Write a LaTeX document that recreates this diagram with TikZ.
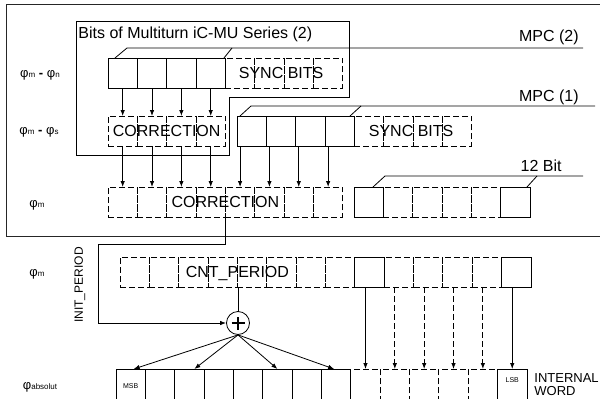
\documentclass[tikz,border=0pt]{standalone}
\usepackage{fontspec}
\setmainfont{Liberation Sans}
\usetikzlibrary{arrows.meta, positioning}
\newcommand\phisub[1]{φ{\fontsize{8}{8}\selectfont #1}}

\begin{document}
\begin{tikzpicture}[
            x=1pt, y=-1pt,
            line width=0.8pt,
            cell/.style={draw, minimum width=29.35pt, minimum height=30pt, inner sep=0pt, outer sep=0pt, anchor=north west},
            dcell/.style={cell, dash pattern=on 6pt off 3pt},
            arr/.style={-{Latex[length=6pt,width=4.5pt]}},
            darr/.style={arr, dash pattern=on 6pt off 3pt},
            big/.style={font=\fontsize{16}{16}\selectfont, inner sep=0pt, text height=11.5pt, text depth=0pt},
            lbl/.style={font=\fontsize{13}{13}\selectfont, inner sep=0pt},
            tiny/.style={font=\fontsize{7}{7}\selectfont, inner sep=0pt},
            adder/.style={draw, circle, minimum size=23pt, inner sep=0pt,
              path picture={\draw[line width=2.4pt]
                ([xshift=-6.5pt]path picture bounding box.center) -- ([xshift=6.5pt]path picture bounding box.center)
                ([yshift=-6.5pt]path picture bounding box.center) -- ([yshift=6.5pt]path picture bounding box.center);}}
          ]
            \useasboundingbox (0,0) rectangle (600,399);
            \clip (0,0) rectangle (600,399);
            \draw[black!85] (6,4) rectangle (610,236);
            \draw (76,21) -- (349,21) -- (349,97) -- (229,97) -- (229,155) -- (76,155) -- cycle;
            \node[big, anchor=south west] (title) at (78,39) {Bits of Multiturn iC-MU Series (2)};

            \foreach \i in {4,...,7} \node[dcell] (a\i) at (108+\i*29.35,58) {};
            \foreach \i in {0,...,3} \node[cell] (a\i) at (108+\i*29.35,58) {};
            \node[big] (sync2) at ([xshift=-3pt]a5.east) {SYNC BITS};

            \foreach \i in {0,...,3} \node[dcell] (b\i) at (108+\i*29.35,116) {};
            \node[big] (corr1) at (b1.east) {CORRECTION};
            \foreach \i in {4,...,7} \node[dcell] (m\i) at (237+\i*29.35,116) {};
            \foreach \i in {0,...,3} \node[cell] (m\i) at (237+\i*29.35,116) {};
            \node[big] (sync1) at ([xshift=-2pt]m5.east) {SYNC BITS};

            \foreach \i in {0,...,7} \node[dcell] (c\i) at (108+\i*29.35,187) {};
            \node[big] (corr2) at (c4.west) {CORRECTION};
            \foreach \i in {1,...,4} \node[dcell] (t\i) at (354+\i*29.35,187) {};
            \foreach \i in {0,5} \node[cell] (t\i) at (354+\i*29.35,187) {};

            \foreach \i in {0,...,7,9,10,11,12} \node[dcell] (d\i) at (120+\i*29.35,257) {};
            \foreach \i in {8,13} \node[cell] (d\i) at (120+\i*29.35,257) {};
            \node[big] (cnt) at (d4.west) {CNT\_PERIOD};

            \foreach \i in {8,...,12} \node[dcell, minimum height=40pt] (e\i) at (116+\i*29.35,369) {};
            \foreach \i in {0,...,7,13} \node[cell, minimum height=40pt] (e\i) at (116+\i*29.35,369) {};
            \node[tiny] (msb) at ([yshift=-17pt]e0.north) {MSB};
            \node[tiny] (lsb) at ([yshift=-11pt]e13.north) {LSB};

            \draw (115,58) -- ++(12,-10) -- (583,48);
            \draw (232,48) -- ++(-8,10);
            \node[big, anchor=south east] (mpc2) at (579,42) {MPC (2)};
            \draw (240,116) -- ++(11,-10) -- (595,106);
            \draw (361,106) -- ++(-11,10);
            \node[big, anchor=south east] (mpc1) at (579,102) {MPC (1)};
            \draw (373,187) -- ++(12,-11) -- (583,176);
            \draw (537,176) -- ++(-10,11);
            \node[big, anchor=south east] (bits) at (562,172) {12 Bit};

            \foreach \i in {0,...,3} \draw[arr] (a\i) -- (b\i);
            \foreach \i in {0,...,3} \draw[arr] (b\i) -- (c\i);
            \foreach \i in {4,...,7} \draw[arr] (c\i.north |- m0.south) -- (c\i.north);

            \node[adder] (sum) at (238,323) {};
            \coordinate (bend) at (98,244);
            \draw[arr] (c4.south west) |- (bend) |- (sum);
            \node[lbl, font=\fontsize{12}{12}\selectfont, rotate=90] (init) at (80,285) {INIT\_PERIOD};
            \draw (sum.north |- d4.south) -- (sum);
            \draw[arr] (sum.south) -- ([xshift=3pt]e0.north);
            \draw[arr] (sum.south) -- ([xshift=5pt]e2.north);
            \draw[arr] (sum.south) -- (e5.north);
            \draw[arr] (sum.south) -- ([xshift=-2pt]e7.north);
            \foreach \i in {8,13} \draw[arr] (e\i.north |- d8.south) -- (e\i.north);
            \foreach \i in {9,...,12} \draw[darr] (e\i.north |- d8.south) -- (e\i.north);

            \node[lbl] (ln) at (40,75) {\phisub{m} \textbf{-} \phisub{n}};
            \node[lbl] (ls) at (39,132) {\phisub{m} \textbf{-} \phisub{s}};
            \node[lbl] (lm1) at (37,205) {\phisub{m}};
            \node[lbl] (lm2) at (37,274) {\phisub{m}};
            \node[lbl] (labs) at (40,387) {\phisub{absolut}};
            \node[font=\fontsize{13}{13}\selectfont, inner sep=0pt, align=left, anchor=west] (word) at (534,385) {INTERNAL\\WORD};
          \end{tikzpicture}
\end{document}
